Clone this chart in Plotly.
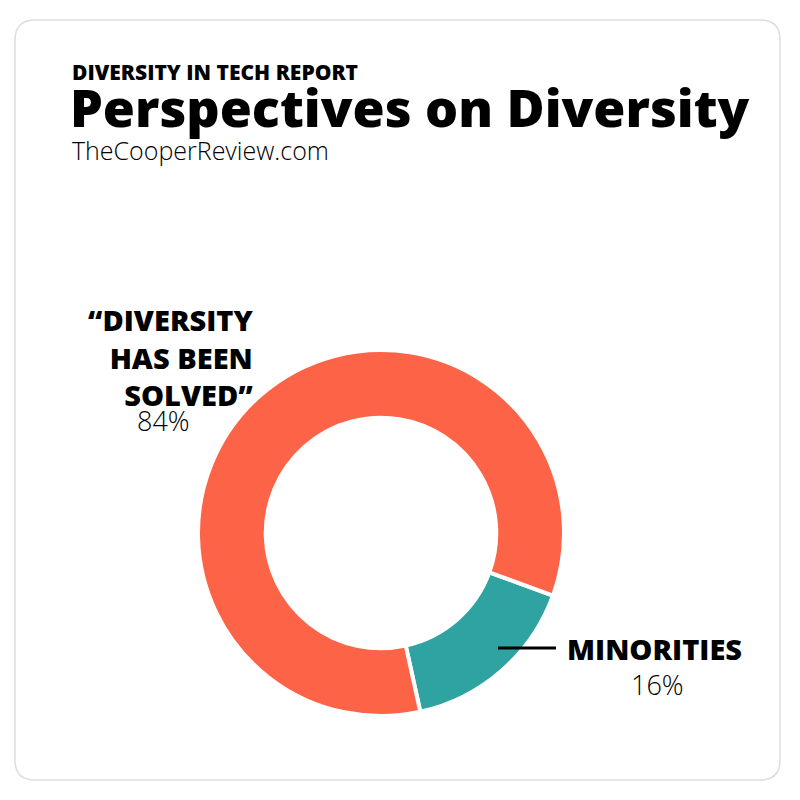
import plotly.graph_objects as go

# slice data
labels = ["Minorities", "Diversity has been solved"]
values = [16, 84]
colors = ["#2ea3a2", "#fd6346"]

# text
kicker = "DIVERSITY IN TECH REPORT"
title = "Perspectives on Diversity"
source = "TheCooperReview.com"

OFF = 8  # page offset of the browser

def px(x): return (x - OFF) / 800
def py(y): return 1 - (y - OFF) / 800

fig = go.Figure(go.Pie(
    labels=labels, values=values, hole=0.63, sort=False, direction="clockwise",
    rotation=110, textinfo="none", hoverinfo="label+percent",
    marker=dict(colors=colors, line=dict(color="white", width=4)),
    domain=dict(x=[px(198), px(564)], y=[py(716), py(350)]),
))

ann = []
def text(x, y, t, size, bold=False, anchor="left"):
    ann.append(dict(x=px(x), y=py(y), xref="paper", yref="paper", text=t, showarrow=False,
                    xanchor=anchor, yanchor="middle", align=anchor,
                    font=dict(family="Open Sans", size=size, color="black",
                              weight=800 if bold else 300)))

text(70, 72, kicker, 21, True)
text(68, 106, title, 52, True)
text(70, 150, source, 25)
text(255, 357, "“DIVERSITY<br>HAS BEEN<br>SOLVED”", 29, True, "right")
text(163, 420, "84%", 27, anchor="center")
text(565, 648, "MINORITIES", 29, True)
text(657, 684, "16%", 27, anchor="center")

fig.update_layout(
    width=800, height=800, margin=dict(l=0, r=0, t=0, b=0),
    paper_bgcolor="white", showlegend=False, annotations=ann,
    shapes=[
        dict(type="path", xref="paper", yref="paper", line=dict(color="#dddddd", width=1.5),
             path=f"M {px(35)},{py(20)} L {px(760)},{py(20)} Q {px(780)},{py(20)} {px(780)},{py(40)} "
                  f"L {px(780)},{py(760)} Q {px(780)},{py(780)} {px(760)},{py(780)} "
                  f"L {px(35)},{py(780)} Q {px(15)},{py(780)} {px(15)},{py(760)} "
                  f"L {px(15)},{py(40)} Q {px(15)},{py(20)} {px(35)},{py(20)} Z"),
        dict(type="line", xref="paper", yref="paper", x0=px(498), x1=px(556), y0=py(648), y1=py(648),
             line=dict(color="black", width=3)),
    ],
)

fig.write_html("out.html")
